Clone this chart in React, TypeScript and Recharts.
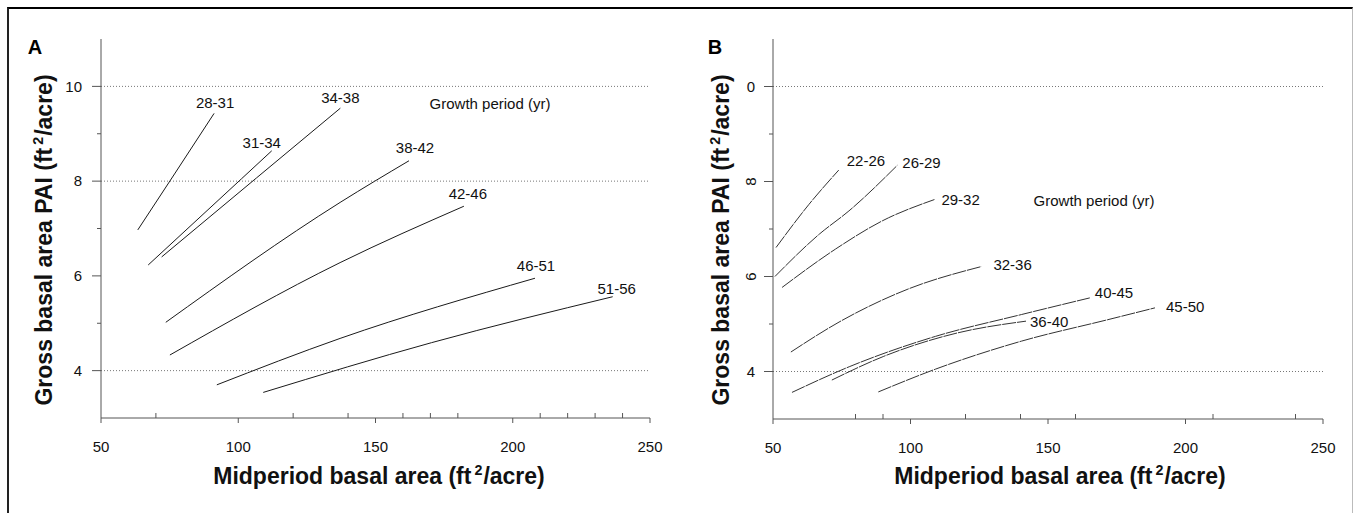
import React from 'react';
import { LineChart, Line, XAxis, YAxis, ReferenceLine, LabelList } from 'recharts';

// panel A
const periodsA = ['28-31', '31-34', '34-38', '38-42', '42-46', '46-51', '51-56'];
const basalA = [
  [63.4, 77.0, 91.2],
  [67.2, 101.2, 112.2],
  [72.1, 106.7, 137.2],
  [73.6, 137.1, 162.2],
  [75.1, 137.1, 182.2],
  [92.2, 137.1, 208.1],
  [109.1, 170.4, 236.4],
];
const paiA = [
  [6.97, 8.17, 9.43],
  [6.23, 8.05, 8.64],
  [6.4, 8.07, 9.54],
  [5.02, 7.55, 8.43],
  [4.33, 6.28, 7.47],
  [3.7, 4.68, 5.95],
  [3.54, 4.59, 5.56],
];

// panel B
const periodsB = ['22-26', '26-29', '29-32', '32-36', '36-40', '40-45', '45-50'];
const basalB = [
  [51.1, 63.1, 73.9],
  [50.7, 66.8, 77.6, 95.2],
  [53.3, 72.8, 89.7, 108.7],
  [56.5, 74.0, 99.3, 125.8],
  [71.4, 90.3, 116.9, 142.0],
  [56.9, 77.7, 109.1, 140.4, 165.2],
  [88.3, 109.1, 140.4, 171.7, 188.9],
];
const paiB = [
  [6.61, 7.52, 8.24],
  [6.0, 6.89, 7.38, 8.34],
  [5.77, 6.58, 7.17, 7.62],
  [4.41, 5.04, 5.74, 6.21],
  [3.82, 4.32, 4.81, 5.06],
  [3.56, 4.1, 4.74, 5.2, 5.55],
  [3.57, 4.05, 4.64, 5.09, 5.34],
];

// axes
const majorX = [50, 100, 150, 200, 250];
const minorXA = [70, 120, 140, 160, 170, 180, 210, 220, 230, 240];
const minorXB = [80, 90, 120, 140, 160, 210, 240];
const majorY = [4, 6, 8, 10];
const yLabelsA = ['4', '6', '8', '10'];
const yLabelsB = ['4', '6', '8', '0'];
const gridA = [4, 8, 10];
const gridB = [4, 10];

// label placement relative to the last point of each curve (pixels)
const labelOffA = [[1, -11], [-10, -8], [0, -10], [6, -13], [4, -12], [1, -12], [4, -8]];
const labelOffB = [[8, -9], [5, -3], [7, 0], [12, -2], [4, 1], [5, -5], [11, -1]];

const FONT = '"Liberation Sans", Arial, Helvetica, sans-serif';
const AXIS = '#555';

const XTick = (props: any) => {
  const { x, y, payload } = props;
  const v = payload.value;
  if (majorX.includes(v)) {
    return (
      <g>
        <line x1={x} x2={x} y1={y} y2={y + 5} stroke={AXIS} />
        <text x={x} y={y + 29} dy="0.35em" textAnchor="middle" fontSize={15} fill="#111" fontFamily={FONT}>{v}</text>
      </g>
    );
  }
  return <line x1={x} x2={x} y1={y - 5} y2={y} stroke={AXIS} />;
};

const YTick = (props: any) => {
  const { x, y, payload, panel } = props;
  const v = payload.value;
  const idx = majorY.indexOf(v);
  if (idx < 0) return <line x1={x - 4} x2={x} y1={y} y2={y} stroke={AXIS} />;
  const text = panel === 'A' ? yLabelsA[idx] : yLabelsB[idx];
  const rotated = panel === 'B' && (v === 6 || v === 8);
  return (
    <g>
      <line x1={x - 9} x2={x} y1={y} y2={y} stroke={AXIS} />
      {panel === 'A' ? (
        <text x={x - 19} y={y} dy="0.35em" textAnchor="end" fontSize={15} fill="#111" fontFamily={FONT}>{text}</text>
      ) : (
        <text
          x={x - 22}
          y={y}
          dy="0.35em"
          textAnchor="middle"
          fontSize={15}
          fill="#111"
          fontFamily={FONT}
          transform={rotated ? `rotate(-90, ${x - 22}, ${y})` : undefined}
        >
          {text}
        </text>
      )}
    </g>
  );
};

const Unit = () => (
  <>
    (ft<span style={{ fontSize: '0.62em', position: 'relative', top: '-0.6em', margin: '0 1px 0 3px' }}>2</span>/acre)
  </>
);

const Panel = ({ panel, left, width, margin, periods, basal, pai, offsets, grid, minorX, broken }: any) => {
  const series = periods.map((name: string, i: number) => ({
    name,
    data: basal[i].map((x: number, j: number) => ({ x, y: pai[i][j] })),
  }));
  const ticksX = [...majorX, ...minorX].sort((a, b) => a - b);
  return (
    <div style={{ position: 'absolute', left, top: 0 }}>
      <LineChart width={width} height={513} margin={margin}>
        <XAxis
          type="number"
          dataKey="x"
          domain={[50, 250]}
          ticks={ticksX}
          interval={0}
          allowDataOverflow
          height={40}
          tickSize={0}
          tickMargin={0}
          tickLine={false}
          axisLine={{ stroke: AXIS }}
          tick={(p: any) => <XTick {...p} />}
        />
        <YAxis
          type="number"
          domain={[3, 11]}
          ticks={[4, 5, 6, 7, 8, 9, 10]}
          interval={0}
          allowDataOverflow
          width={40}
          tickSize={0}
          tickMargin={0}
          tickLine={false}
          axisLine={{ stroke: AXIS }}
          tick={(p: any) => <YTick {...p} panel={panel} />}
        />
        {grid.map((g: number) => (
          <ReferenceLine key={g} y={g} stroke="#777" strokeDasharray="1 2" />
        ))}
        {series.map((s: any, i: number) => (
          <Line
            key={s.name}
            data={s.data}
            dataKey="y"
            type="monotone"
            stroke={broken ? '#333' : '#1a1a1a'}
            strokeWidth={1}
            strokeDasharray={broken ? '14 1' : undefined}
            dot={false}
            activeDot={false}
            isAnimationActive={false}
          >
            <LabelList
              dataKey="y"
              content={(lp: any) =>
                lp.index === s.data.length - 1 ? (
                  <text
                    x={lp.x + offsets[i][0]}
                    y={lp.y + offsets[i][1]}
                    dy="0.35em"
                    textAnchor={panel === 'A' ? 'middle' : 'start'}
                    fontSize={15}
                    fill="#111"
                    fontFamily={FONT}
                  >
                    {s.name}
                  </text>
                ) : (
                  <g />
                )
              }
            />
          </Line>
        ))}
      </LineChart>
    </div>
  );
};

const abs = (cx: number, cy: number, extra: React.CSSProperties = {}): React.CSSProperties => ({
  position: 'absolute',
  left: cx,
  top: cy,
  transform: 'translate(-50%, -50%)',
  whiteSpace: 'nowrap',
  lineHeight: 1,
  ...extra,
});

const title: React.CSSProperties = { fontSize: 23, fontWeight: 700, color: '#111' };
const small: React.CSSProperties = { fontSize: 15, color: '#111' };

export default function App() {
  return (
    <div
      style={{
        position: 'absolute',
        left: 0,
        top: 0,
        width: 1353,
        height: 513,
        overflow: 'hidden',
        background: '#fff',
        fontFamily: FONT,
      }}
    >
      <div
        style={{
          position: 'absolute',
          left: 7,
          top: 7,
          width: 1346,
          height: 540,
          boxSizing: 'border-box',
          borderTop: '2px solid #000',
          borderLeft: '2px solid #222',
          borderRight: '1px solid #bbb',
        }}
      />
      <Panel
        panel="A"
        left={0}
        width={676}
        margin={{ top: 39, right: 26, bottom: 55, left: 61 }}
        periods={periodsA}
        basal={basalA}
        pai={paiA}
        offsets={labelOffA}
        grid={gridA}
        minorX={minorXA}
        broken={false}
      />
      <Panel
        panel="B"
        left={676}
        width={677}
        margin={{ top: 39, right: 30, bottom: 54, left: 57 }}
        periods={periodsB}
        basal={basalB}
        pai={paiB}
        offsets={labelOffB}
        grid={gridB}
        minorX={minorXB}
        broken={true}
      />

      <div style={abs(35, 47, { fontSize: 20, fontWeight: 700 })}>A</div>
      <div style={abs(715, 47, { fontSize: 20, fontWeight: 700 })}>B</div>

      <div style={abs(490, 103, small)}>Growth period (yr)</div>
      <div style={abs(1094, 200, small)}>Growth period (yr)</div>

      <div style={abs(44, 240, { ...title, transform: 'translate(-50%, -50%) rotate(-90deg)' })}>
        Gross basal area PAI <Unit />
      </div>
      <div style={abs(721, 240, { ...title, transform: 'translate(-50%, -50%) rotate(-90deg)' })}>
        Gross basal area PAI <Unit />
      </div>

      <div style={abs(379, 476, title)}>
        Midperiod basal area <Unit />
      </div>
      <div style={abs(1060, 476, title)}>
        Midperiod basal area <Unit />
      </div>
    </div>
  );
}
